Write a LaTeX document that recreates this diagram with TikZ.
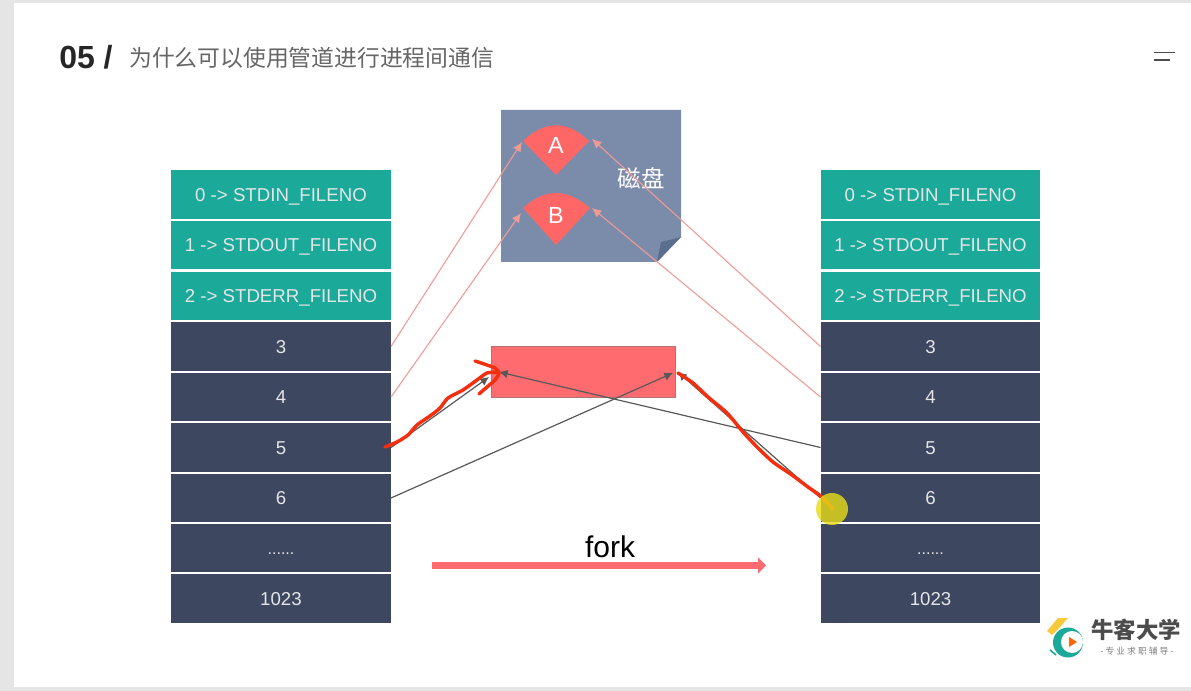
\documentclass[tikz,border=0pt]{standalone}
\usepackage{fontspec}
\setmainfont{Liberation Sans}
\newfontfamily\cjk{Noto Sans CJK SC}
\usetikzlibrary{arrows.meta}
\definecolor{tealcell}{HTML}{1BA99A}
\definecolor{darkcell}{HTML}{3D4760}
\definecolor{diskblue}{HTML}{7B8CAB}
\definecolor{foldblue}{HTML}{5C6E8F}
\definecolor{sectorred}{HTML}{FF6666}
\definecolor{pipered}{HTML}{FF6B6E}
\definecolor{pinkline}{HTML}{F29A94}
\definecolor{inkred}{HTML}{F2300F}
\definecolor{capyellow}{HTML}{F9C93C}
\newcommand{\pxfont}[1]{\fontsize{#1}{#1}\selectfont}
\tikzset{
	cell/.style={minimum width=164.6pt, minimum height=36.4pt, inner sep=0pt, text=white!90!black, text height=10pt, text depth=0pt, font=\pxfont{14}},
	cellteal/.style={cell, fill=tealcell},
	celldark/.style={cell, fill=darkcell},
	diskline/.style={draw=pinkline, line width=.8pt, -{Latex[length=7pt,width=6.5pt]}},
	pipeline/.style={draw=black!65, line width=.9pt, -{Latex[length=6.5pt,width=6.5pt]}},
	inkstroke/.style={draw=inkred, line width=2.6pt, line cap=round, line join=round},
}

\begin{document}
\begin{tikzpicture}[x=.75pt, y=-.75pt]

% ==== Slide ====
\fill[black!10] (0,0) rectangle (1191,691);
\fill[white] (14,3.5) rectangle (1191,687);
\node[anchor=west, inner sep=0pt, font=\bfseries\pxfont{24}, text=black!85] (num) at (59,57) {05 /};
\node[anchor=west, inner sep=0pt, font=\cjk\pxfont{17.1}, text=black!60] (title) at (129,58) {为什么可以使用管道进行进程间通信};
\draw[black!70, line width=1pt] (1154,52.5) -- (1175,52.5);
\draw[black!70, line width=1pt] (1154,60) -- (1170,60);

% ==== fd tables ====
\foreach \side/\xc in {l/281, r/930.5} {
	\foreach \i/\yc/\sty/\txt in {
		0/194.5/cellteal/{0 -> STDIN\_FILENO},
		1/245/cellteal/{1 -> STDOUT\_FILENO},
		2/296/cellteal/{2 -> STDERR\_FILENO},
		3/346.5/celldark/{3},
		4/397/celldark/{4},
		5/447.5/celldark/{5},
		6/498/celldark/{6},
		7/548/celldark/{\pxfont{12}......},
		8/598.5/celldark/{1023}} {
		\node[\sty] (\side\i) at (\xc,\yc) {\txt};
	}
}

% ==== Disk ====
\fill[diskblue] (501,110) -- (681,110) -- (681,237) -- (657,262) -- (501,262) -- cycle;
\fill[foldblue] (657,262) -- (661,242) -- (681,237) -- cycle;
\node[text=white, font=\cjk\pxfont{17.6}, inner sep=0pt] (disk) at (641,178) {磁盘};

% sectors
\fill[sectorred] (556,175) -- (523,141) .. controls (545,120) and (567,120) .. (589,141) -- cycle;
\fill[sectorred] (556,245) -- (523,208) .. controls (545,188) and (567,188) .. (590,208) -- cycle;
\node[text=white, font=\pxfont{17.5}, inner sep=0pt] (secA) at (556,145) {A};
\node[text=white, font=\pxfont{17.5}, inner sep=0pt] (secB) at (556,215) {B};
\coordinate (secAl) at (522,142);
\coordinate (secAr) at (592,139);
\coordinate (secBl) at (521,213);
\coordinate (secBr) at (592,208);

\draw[diskline] (l3.east) -- (secAl);
\draw[diskline] (l4.east) -- (secBl);
\draw[diskline] (r3.west) -- (secAr);
\draw[diskline] (r4.west) -- (secBr);

% ==== Pipe ====
\node[draw=red!45!black!55, fill=pipered, line width=.6pt, minimum width=138pt, minimum height=38.2pt, inner sep=0pt] (pipe) at (583,371.5) {};
\coordinate (pipeA) at (489,377);
\coordinate (pipeB) at (499,372);
\coordinate (pipeC) at (673,373);
\coordinate (pipeD) at (678,372);

\draw[pipeline] (l5.east) -- (pipeA);
\draw[pipeline] (r5.west) -- (pipeB);
\draw[pipeline] (l6.east) -- (pipeC);
\draw[pipeline] (r6.west) -- (pipeD);

% ==== fork ====
\coordinate (forkfrom) at (432,565.5);
\coordinate (forkto) at (766,565.5);
\draw[draw=pipered, line width=5.2pt, -{Triangle[length=6pt,width=12pt]}] (forkfrom) -- (forkto);
\node[font=\pxfont{22.5}, inner sep=0pt] (fork) at (610,547) {fork};

% ==== Pen strokes ====
\draw[inkstroke] plot[smooth, tension=.4] coordinates {(385,447) (397,442) (408,435) (417,425) (430,416) (440,408) (448,398) (463,390) (477,380) (487,373) (498,372)};
\draw[inkstroke] plot[smooth, tension=.4] coordinates {(475,361) (487,365) (495,368) (499,373) (495,380) (487,387) (479,394)};
\draw[inkstroke] plot[smooth, tension=.4] coordinates {(678,373) (693,383) (708,397) (727,413) (743,432) (757,447) (773,462) (792,475) (808,487) (822,497) (833,509)};
\fill[yellow!90!black, opacity=.8] (832,509) circle (16);

% ==== Logo ====
\fill[capyellow] (1047,631) -- (1058,618) -- (1068,618) -- (1061,626) -- (1052,635) -- cycle;
\fill[tealcell] (1068,642.5) circle (15);
\fill[white] (1072,642) circle (11);
\fill[orange!80!red] (1069,637) -- (1077,642) -- (1069,647) -- cycle;
\draw[tealcell, line width=1.2pt] (1050,650) -- (1056,655);
\node[font=\cjk\bfseries\pxfont{16.8}, text=black!70, inner sep=0pt] (logo) at (1136,630) {牛客大学};
\node[font=\cjk\pxfont{6.6}, text=black!50, inner sep=0pt] (slogan) at (1137,651) {- 专 业 求 职 辅 导 -};

\end{tikzpicture}
\end{document}
